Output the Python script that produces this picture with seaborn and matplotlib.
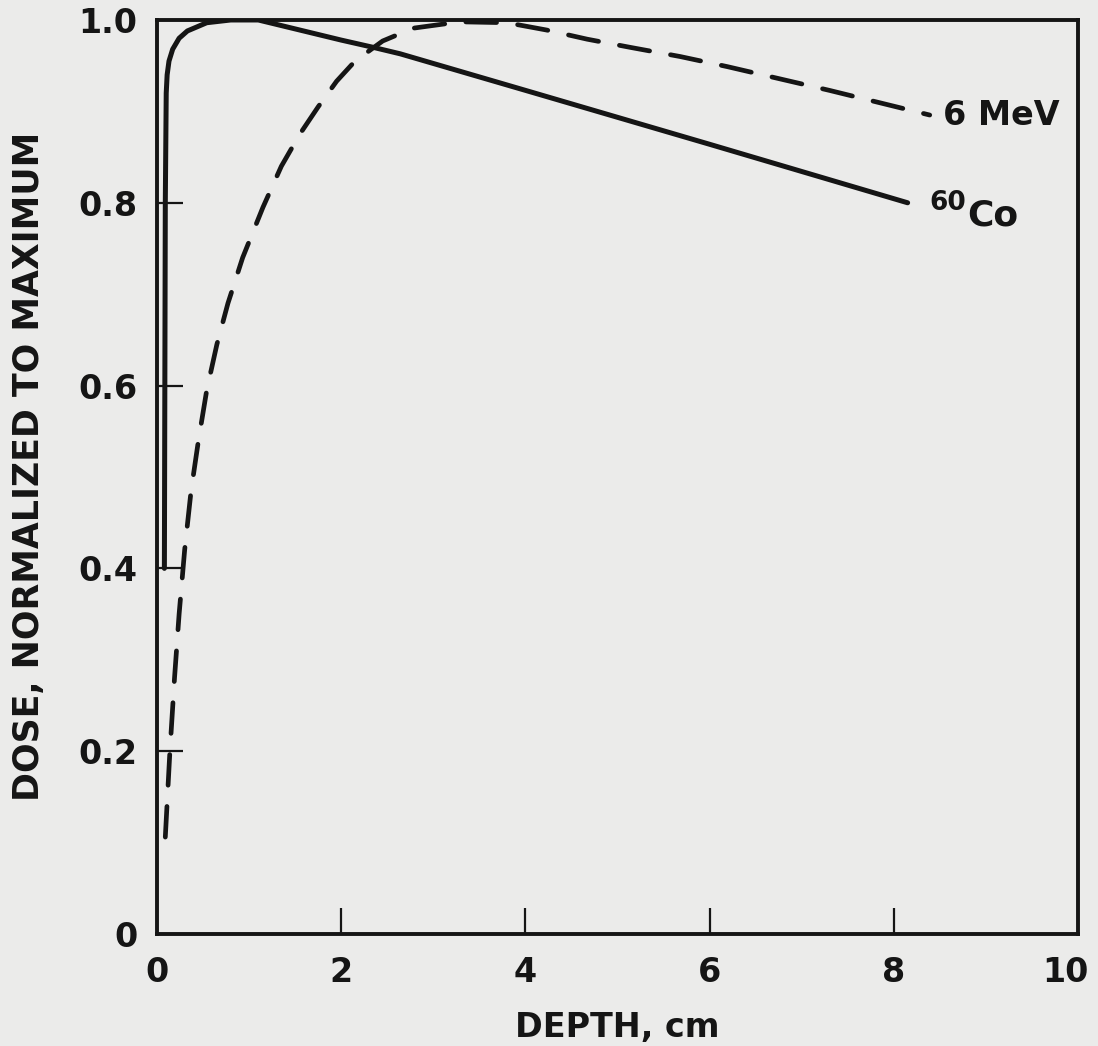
import numpy as np
import pandas as pd
import matplotlib
matplotlib.use("Agg")
import matplotlib.pyplot as plt
import matplotlib.transforms as mtransforms
import seaborn as sns

# depth-dose curves (depth in cm, dose normalized)
co60_depth = [0.08, 0.09, 0.10, 0.11, 0.13, 0.17, 0.24, 0.33, 0.54, 0.8, 1.1, 1.55, 2.0, 2.35, 2.64, 4.0, 6.0, 8.15]
co60_dose = [0.40, 0.80, 0.92, 0.94, 0.955, 0.968, 0.98, 0.988, 0.997, 1.0, 1.0, 0.989, 0.978, 0.970, 0.963, 0.923, 0.864, 0.800]

mev6_depth = [0.09, 0.14, 0.19, 0.24, 0.30, 0.37, 0.45, 0.54, 0.65, 0.77, 0.93, 1.15, 1.35, 1.55, 1.75,
              1.95, 2.15, 2.45, 2.78, 3.29, 3.8, 4.23, 4.67, 5.14, 5.68, 6.19, 7.3, 8.39]
mev6_dose = [0.106, 0.20, 0.28, 0.35, 0.42, 0.485, 0.54, 0.595, 0.645, 0.69, 0.74, 0.795, 0.84, 0.875, 0.905,
             0.933, 0.955, 0.977, 0.991, 0.998, 0.997, 0.989, 0.979, 0.970, 0.960, 0.949, 0.923, 0.896]

x_ticks = [0, 2, 4, 6, 8, 10]
x_marks = [2, 4, 6, 8]
y_ticks = [0, 0.2, 0.4, 0.6, 0.8, 1.0]
y_tick_labels = ["0", "0.2", "0.4", "0.6", "0.8", "1.0"]
y_marks = [0.2, 0.4, 0.6, 0.8]

bg = "#ebebea"
ink = "#151515"
sns.set_style("ticks")
plt.rcParams["font.family"] = ["DejaVu Sans"]
plt.rcParams["font.weight"] = "bold"

fig = plt.figure(figsize=(10.98, 10.46), dpi=100, facecolor=bg)
ax = fig.add_axes([0.143, 0.1071, 0.8388, 0.8738])
ax.set_facecolor(bg)

co = pd.DataFrame({"depth": co60_depth, "dose": co60_dose})
mev = pd.DataFrame({"depth": mev6_depth, "dose": mev6_dose})
sns.lineplot(data=co, x="depth", y="dose", ax=ax, color=ink,
             linewidth=3.6, sort=False, estimator=None)
sns.lineplot(data=mev, x="depth", y="dose", ax=ax, color=ink,
             linewidth=3.4, sort=False, estimator=None)
ax.lines[-1].set_dashes((6.5, 4.5))
for ln in ax.lines:
    ln.set_solid_capstyle("round")
    ln.set_dash_capstyle("round")
    ln.set_solid_joinstyle("round")

ax.set_xlim(0, 10)
ax.set_ylim(0, 1.0)

for sp in ax.spines.values():
    sp.set_visible(True)
    sp.set_linewidth(2.8)
    sp.set_color(ink)

# labels on the major ticks, inner tick marks only on the inner positions
ax.set_xticks(x_ticks)
ax.set_yticks(y_ticks)
ax.set_yticklabels(y_tick_labels)
ax.set_xticks(x_marks, minor=True)
ax.set_yticks(y_marks, minor=True)
ax.xaxis.remove_overlapping_locs = False
ax.yaxis.remove_overlapping_locs = False
ax.tick_params(which="major", length=0, labelsize=24, labelcolor=ink)
ax.tick_params(which="minor", direction="in", length=19, width=1.6, color=ink)
ax.tick_params(axis="y", which="major", pad=14)
ax.tick_params(axis="x", which="major", pad=16)

# the "10" sits a little left of the frame corner in the reference
fig.canvas.draw()
last = ax.get_xticklabels()[-1]
last.set_transform(last.get_transform() + mtransforms.ScaledTranslation(-9 / 72, 0, fig.dpi_scale_trans))

ax.set_xlabel("DEPTH, cm", fontsize=24, fontweight="bold", labelpad=16, color=ink)
ax.set_ylabel("DOSE, NORMALIZED TO MAXIMUM", fontsize=25, fontweight="bold", color=ink)
ax.yaxis.set_label_coords(-0.121, 0.512)

ax.text(8.53, 0.895, "6 MeV", fontsize=24, fontweight="bold", va="center", ha="left", color=ink)
ax.text(8.39, 0.80, "60", fontsize=19, fontweight="bold", va="center", ha="left", color=ink)
ax.text(8.8, 0.786, "Co", fontsize=26, fontweight="bold", va="center", ha="left", color=ink)

fig.savefig("out.png", dpi=100, facecolor=bg)
